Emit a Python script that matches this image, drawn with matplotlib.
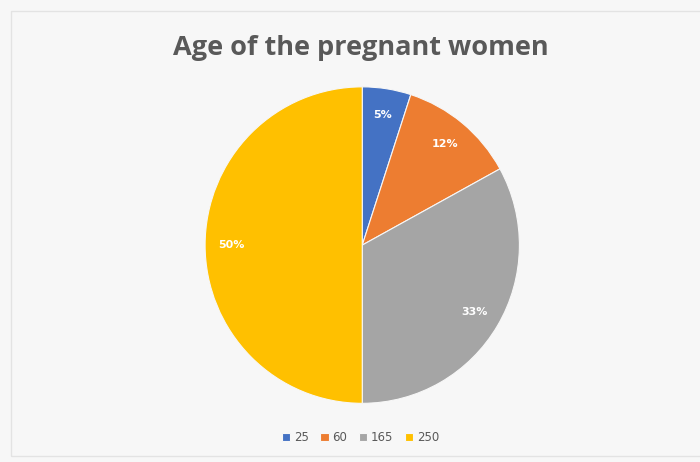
import matplotlib.pyplot as plt
from matplotlib.patches import Rectangle

labels = ["25", "60", "165", "250"]
values = [25, 60, 165, 250]
colors = ["#4472C4", "#ED7D31", "#A5A5A5", "#FFC000"]

fig = plt.figure(figsize=(7, 4.62), dpi=100, facecolor="#F7F7F7")
fig.patches.append(Rectangle((0.015, 0.012), 0.99, 0.965, transform=fig.transFigure,
                             fill=False, edgecolor="#E3E3E3", linewidth=1))

ax = fig.add_axes([0.293, 0.127, 0.449, 0.685])
wedges, texts, autotexts = ax.pie(values, colors=colors, startangle=90, counterclock=False,
                                  autopct="%1.0f%%", pctdistance=0.83,
                                  wedgeprops=dict(linewidth=0.8, edgecolor="#F7F7F7"))
for t in autotexts:
    t.set_color("white")
    t.set_fontsize(8)
    t.set_fontweight("bold")
ax.set_aspect("auto")
ax.set_xlim(-1, 1)
ax.set_ylim(-1, 1)

fig.text(0.516, 0.897, "Age of the pregnant women", ha="center", va="center",
         fontsize=19.5, fontweight="bold", color="#595959", family="Open Sans")

fig.legend(wedges, labels, loc="center", bbox_to_anchor=(0.515, 0.053), ncol=4,
           frameon=False, fontsize=8.5, labelcolor="#595959", handlelength=0.7,
           handleheight=0.7, handletextpad=0.3, columnspacing=1.0)

fig.savefig("out.png", dpi=100, facecolor=fig.get_facecolor())
